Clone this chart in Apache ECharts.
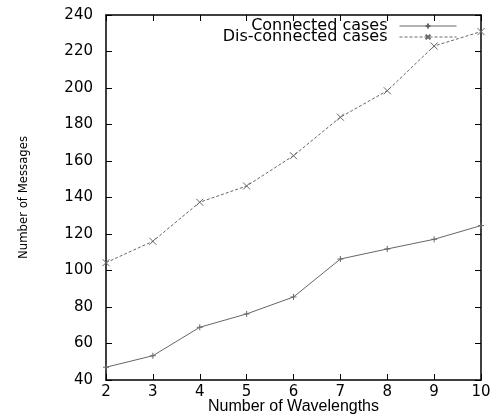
<!DOCTYPE html>
<html>
<head>
<meta charset="utf-8">
<script src="https://cdn.jsdelivr.net/npm/echarts@6/dist/echarts.min.js"></script>
<style>
  html, body { margin: 0; padding: 0; background: #fff; }
  #chart { width: 496px; height: 416px; }
</style>
</head>
<body>
<div id="chart"></div>
<script>
// values
const wavelengths = [2, 3, 4, 5, 6, 7, 8, 9, 10];
const connected = [47, 53.3, 68.9, 76.2, 85.5, 106.3, 111.8, 117.1, 124.6];
const disconnected = [104.3, 116, 137.4, 146.3, 162.9, 184, 198.5, 223, 230.9];

const LINE = "#666";
const FONT = "DejaVu Sans";

// + and x markers, drawn as strokes
const PLUS = "path://M0,5L10,5M5,0L5,10";
const CROSS = "path://M0,0L10,10M10,0L0,10";

const chart = echarts.init(document.getElementById("chart"), null, { renderer: "canvas" });

const axisCommon = {
  type: "value",
  axisLine: { show: true, onZero: false, lineStyle: { color: "#000", width: 1.5 } },
  axisTick: { show: true, inside: true, length: 6, lineStyle: { color: "#000", width: 1 } },
  splitLine: { show: false },
};

const legendCommon = {
  right: 34,
  align: "right",
  itemWidth: 57,
  itemHeight: 6,
  lineStyle: { width: 1 },
  textStyle: { fontFamily: FONT, fontSize: 16, color: "#000", padding: [0, 7, 0, 0] },
};

chart.setOption({
  animation: false,
  backgroundColor: "#fff",
  grid: { left: 106, right: 15, top: 15, bottom: 36, outerBoundsMode: "none" },
  legend: [
    { ...legendCommon, data: ["Connected cases"], top: 13 },
    { ...legendCommon, data: ["Dis-connected cases"], top: 24 },
  ],
  xAxis: [
    {
      ...axisCommon,
      position: "bottom",
      min: 2, max: 10, interval: 1,
      name: "Number of Wavelengths",
      nameLocation: "middle",
      nameGap: 19,
      nameMoveOverlap: false,
      nameTextStyle: { fontFamily: "Liberation Sans", fontSize: 16, color: "#000" },
      axisLabel: { margin: 5, fontFamily: FONT, fontSize: 15, color: "#000" },
    },
    {
      ...axisCommon,
      position: "top",
      min: 2, max: 10, interval: 1,
      axisLabel: { show: false },
    },
  ],
  yAxis: [
    {
      ...axisCommon,
      position: "left",
      min: 40, max: 240, interval: 20,
      name: "Number of Messages",
      nameLocation: "middle",
      nameGap: 76,
      nameMoveOverlap: false,
      nameTextStyle: { fontFamily: "DejaVu Sans Condensed", fontSize: 13, color: "#000" },
      axisLabel: { margin: 13, fontFamily: FONT, fontSize: 15, color: "#000" },
    },
    {
      ...axisCommon,
      position: "right",
      min: 40, max: 240, interval: 20,
      axisLabel: { show: false },
    },
  ],
  series: [
    {
      name: "Connected cases",
      type: "line",
      data: wavelengths.map((w, i) => [w, connected[i]]),
      symbol: PLUS,
      symbolSize: 6,
      showAllSymbol: true,
      lineStyle: { color: LINE, width: 1 },
      itemStyle: { color: LINE, borderColor: LINE, borderWidth: 1 },
    },
    {
      name: "Dis-connected cases",
      type: "line",
      data: wavelengths.map((w, i) => [w, disconnected[i]]),
      symbol: CROSS,
      symbolSize: 7,
      showAllSymbol: true,
      lineStyle: { color: LINE, width: 1, type: [3, 2] },
      itemStyle: { color: LINE, borderColor: LINE, borderWidth: 1 },
    },
  ],
});
</script>
</body>
</html>
